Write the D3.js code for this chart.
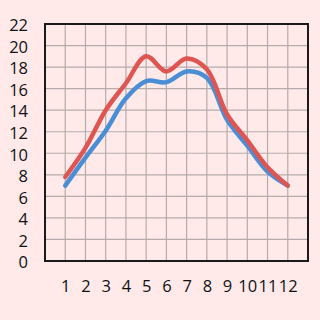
<!DOCTYPE html>
<html><head><meta charset="utf-8">
<script src="https://cdn.jsdelivr.net/npm/d3@7"></script>
<style>html,body{margin:0;padding:0;background:#FFE9E9;}svg{display:block;}</style>
</head><body>
<script>
const categories = [1,2,3,4,5,6,7,8,9,10,11,12];
const redSeries  = [7.8,10.5,14.0,16.5,19.0,17.6,18.8,17.8,13.6,11.2,8.7,7.0];
const blueSeries = [7.0,9.6,12.1,15.1,16.7,16.6,17.6,17.0,13.1,10.7,8.3,7.0];
const yTicks = [0,2,4,6,8,10,12,14,16,18,20,22];

const W=320,H=320, L=45, T=24, R=308, B=261;
const svg=d3.select("body").append("svg").attr("width",W).attr("height",H);
svg.append("rect").attr("width",W).attr("height",H).attr("fill","#FFE9E9");
const x=d3.scaleLinear().domain([0,13]).range([L,R]);
const y=d3.scaleLinear().domain([0,22]).range([B,T]);

// grid
svg.append("g").selectAll("line").data(d3.range(1,13)).join("line")
 .attr("x1",d=>x(d)).attr("x2",d=>x(d)).attr("y1",T).attr("y2",B)
 .attr("stroke","#B5ABAB").attr("stroke-width",1.2);
svg.append("g").selectAll("line").data(yTicks.slice(1,-1)).join("line")
 .attr("y1",d=>y(d)).attr("y2",d=>y(d)).attr("x1",L).attr("x2",R)
 .attr("stroke","#B5ABAB").attr("stroke-width",1.2);

const line=d3.line().x((d,i)=>x(categories[i])).y(d=>y(d)).curve(d3.curveCatmullRom.alpha(0.5));
svg.append("path").datum(blueSeries).attr("d",line).attr("fill","none")
 .attr("stroke","#4A8FD6").attr("stroke-width",4.5).attr("stroke-linecap","round");
svg.append("path").datum(redSeries).attr("d",line).attr("fill","none")
 .attr("stroke","#DE5552").attr("stroke-width",4.5).attr("stroke-linecap","round");

// frame
svg.append("rect").attr("x",L).attr("y",T).attr("width",R-L).attr("height",B-T)
 .attr("fill","none").attr("stroke","#1a1a1a").attr("stroke-width",2);

// axes labels
const yAxis=d3.axisLeft(y).tickValues(yTicks).tickSize(0).tickPadding(17);
const gy=svg.append("g").attr("transform",`translate(${L},1.5)`).call(yAxis);
gy.select(".domain").remove();
gy.selectAll("text").attr("font-family","'Open Sans', sans-serif").attr("font-size",16.5).attr("fill","#111");

const xAxis=d3.axisBottom(x).tickValues(categories).tickSize(0).tickPadding(19);
const gx=svg.append("g").attr("transform",`translate(0,${B})`).call(xAxis);
gx.select(".domain").remove();
gx.selectAll("text").attr("font-family","'Open Sans', sans-serif").attr("font-size",16.5).attr("fill","#111");
</script>
</body></html>
